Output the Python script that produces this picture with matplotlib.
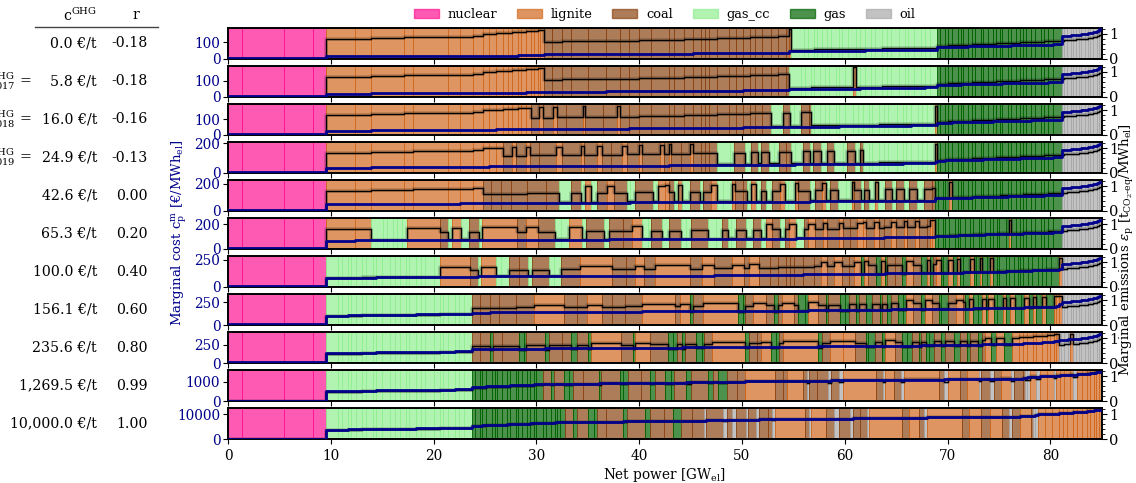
import numpy as np
import matplotlib
matplotlib.use("Agg")
import matplotlib.pyplot as plt
from matplotlib.colors import to_rgba
from matplotlib.lines import Line2D
from matplotlib.patches import Patch
from matplotlib.ticker import MultipleLocator, FixedLocator
import matplotlib.transforms as mtrans

plt.rcParams['font.family'] = ['DejaVu Serif']
plt.rcParams['mathtext.fontset'] = 'dejavuserif'

# CO2 prices of the rows and their correlation r
c_ghg = [0.0, 5.8, 16.0, 24.9, 42.6, 65.3, 100.0, 156.1, 235.6, 1269.5, 10000.0]
r_vals = [-0.18, -0.18, -0.16, -0.13, 0.00, 0.20, 0.40, 0.60, 0.80, 0.99, 1.00]
row_prefix = {1: '2017', 2: '2018', 3: '2019'}
cost_ticks = [100, 100, 100, 200, 200, 200, 250, 250, 250, 1000, 10000]

techs = ['nuclear', 'lignite', 'coal', 'gas_cc', 'gas', 'oil']
tech_colors = ['deeppink', 'chocolate', 'saddlebrown', 'lightgreen', 'darkgreen', 'darkgrey']

# power plant units: capacity [GW], cost without CO2 [EUR/MWh], emissions [t/MWh]
nuclear_cap = [1.33, 4.15, 2.76, 1.26]
nuclear_cost = [7.6, 7.8, 8.0, 8.2]
nuclear_ef = [0.0, 0.0, 0.0, 0.0]

lignite_cap = [2.9, 1.5, 3.2, 0.9, 3.4, 1.2, 1.2, 1.0, 0.6, 0.7, 0.7, 0.4, 0.4, 0.6,
               0.3, 0.5, 0.5, 0.3, 0.4, 0.2, 0.3, 0.25]
lignite_cost = [15.5, 15.7, 16.3, 16.5, 16.7, 16.9, 17.1, 17.4, 18.8, 19.0, 19.4, 19.6,
                19.8, 20.2, 20.4, 20.6, 21.0, 21.2, 21.6, 22.0, 22.4, 44.5]
lignite_ef = [0.80, 0.81, 0.85, 0.86, 0.87, 0.88, 0.89, 0.91, 0.99, 1.00, 1.02, 1.03,
              1.04, 1.06, 1.07, 1.08, 1.10, 1.11, 1.13, 1.15, 1.17, 1.18]

coal_cap = [0.8, 1.0, 0.9, 1.6, 1.8, 1.3, 0.9, 1.0, 1.2, 1.7, 0.5, 1.0, 0.8, 0.8,
            0.4, 0.4, 0.8, 1.1, 0.7, 0.7, 0.7, 0.5, 0.7, 0.8, 0.7, 0.8, 0.25]
coal_cost = [28.0, 28.3, 28.6, 28.8, 29.1, 29.5, 29.7, 30.0, 30.4, 30.8, 31.2, 31.6,
             32.0, 32.4, 32.6, 32.9, 33.3, 33.7, 34.1, 34.5, 34.9, 35.3, 35.7, 36.1,
             36.5, 36.9, 37.3]
coal_ef = [0.68, 0.69, 0.70, 0.70, 0.71, 0.72, 0.72, 0.73, 0.74, 0.75, 0.76, 0.77,
           0.78, 0.79, 0.79, 0.80, 0.81, 0.82, 0.83, 0.84, 0.85, 0.86, 0.87, 0.88,
           0.89, 0.90, 0.91]

gascc_cap = [1.2, 0.4, 0.6, 0.3, 0.5, 0.5, 0.4, 0.7, 0.3, 0.6, 0.8, 0.4, 0.5, 0.6,
             0.3, 0.7, 0.5, 0.4, 0.8, 0.6, 0.3, 0.5, 0.7, 0.4, 0.5, 0.7]
gascc_cost = [44.5, 44.9, 45.3, 45.8, 46.2, 46.6, 47.1, 47.5, 48.0, 48.4, 48.8, 49.3,
              49.7, 50.2, 50.6, 51.0, 51.5, 51.9, 52.4, 52.8, 53.3, 53.7, 54.2, 54.7,
              55.3, 56.0]
gascc_ef = [0.37, 0.37, 0.37, 0.38, 0.38, 0.38, 0.39, 0.39, 0.39, 0.40, 0.40, 0.40,
            0.40, 0.41, 0.41, 0.41, 0.42, 0.42, 0.42, 0.42, 0.43, 0.43, 0.43, 0.44,
            0.44, 0.44]

gas_cap = [0.3, 0.5, 0.2, 0.4, 0.6, 0.3, 0.2, 0.5, 0.4, 0.3, 0.6, 0.2, 0.4, 0.5, 0.3,
           0.4, 0.2, 0.6, 0.3, 0.5, 0.4, 0.2, 0.3, 0.5, 0.4, 0.6, 0.3, 0.4, 0.5, 0.8]
gas_cost = [70.0, 70.5, 71.0, 71.6, 72.1, 72.6, 73.2, 73.7, 74.2, 74.8, 75.3, 75.8,
            76.4, 76.9, 77.4, 78.0, 78.5, 79.0, 79.6, 80.1, 80.6, 81.2, 81.7, 82.2,
            82.8, 83.3, 83.8, 84.4, 85.5, 87.0]
gas_ef = [0.52, 0.53, 0.53, 0.54, 0.55, 0.55, 0.56, 0.57, 0.57, 0.58, 0.59, 0.59,
          0.60, 0.61, 0.61, 0.62, 0.63, 0.63, 0.64, 0.65, 0.65, 0.66, 0.67, 0.67,
          0.68, 0.69, 0.69, 0.70, 0.71, 0.72]

oil_cap = [0.2, 0.3, 0.4, 0.2, 0.3, 0.3, 0.2, 0.4, 0.3, 0.2, 0.3, 0.3, 0.2, 0.3]
oil_cost = [134, 136, 138, 140, 142, 143, 145, 147, 149, 152, 156, 162, 168, 175]
oil_ef = [0.73, 0.74, 0.75, 0.76, 0.77, 0.78, 0.79, 0.80, 0.81, 0.83, 0.85, 0.88,
          0.91, 0.95]

unit_data = [(nuclear_cap, nuclear_cost, nuclear_ef), (lignite_cap, lignite_cost, lignite_ef),
             (coal_cap, coal_cost, coal_ef), (gascc_cap, gascc_cost, gascc_ef),
             (gas_cap, gas_cost, gas_ef), (oil_cap, oil_cost, oil_ef)]

cap = np.concatenate([np.array(d[0], float) for d in unit_data])
cost0 = np.concatenate([np.array(d[1], float) for d in unit_data])
ef = np.concatenate([np.array(d[2], float) for d in unit_data])
tech_idx = np.concatenate([[i] * len(d[0]) for i, d in enumerate(unit_data)])
total = cap.sum()

fig, axs = plt.subplots(len(c_ghg), 1, sharex=True, figsize=(11.36, 4.83), dpi=100)
fig.subplots_adjust(left=0.2007, right=0.9698, bottom=0.091, top=0.942, hspace=0.23)

ef_top = 1.05 * ef.max()

for i, (ax, c) in enumerate(zip(axs, c_ghg)):
    mc = cost0 + c * ef
    order = np.argsort(mc, kind='stable')
    w = cap[order]
    left = np.cumsum(w) - w
    cols = [tech_colors[t] for t in tech_idx[order]]
    ax.bar(left, ef_top, width=w, align='edge', color=[to_rgba(cc, 0.7) for cc in cols],
           edgecolor=cols, linewidth=0.6, zorder=1)
    xs = np.r_[left, total]
    ys = np.r_[ef[order], ef[order][-1]]
    ax.step(xs, ys, where='post', color='k', lw=2.6, alpha=0.18, zorder=2)
    ax.step(xs, ys, where='post', color='k', lw=1.0, zorder=3)
    ax.set_ylim(0, ef_top)
    ax.set_xlim(0, total)
    ax.xaxis.set_major_locator(MultipleLocator(10))
    ax.tick_params(axis='x', labelsize=9.8)

    ax2 = ax.twinx()
    ax2.yaxis.tick_left()
    ax.yaxis.tick_right()
    ax.yaxis.set_major_locator(FixedLocator([0, 1]))
    ax.yaxis.set_minor_locator(MultipleLocator(0.2))
    ax.tick_params(axis='y', which='both', right=True, left=False, labelright=True,
                   labelleft=False, labelsize=10.5, pad=2)
    ax2.step(xs, np.r_[mc[order], mc[order][-1]], where='post', color='darkblue', lw=2.0, zorder=4)
    ax2.set_ylim(0, 1.05 * mc.max())
    ax2.set_yticks([0, cost_ticks[i]])
    ax2.tick_params(axis='y', left=True, right=False, labelleft=True, labelright=False,
                    labelsize=9.8, labelcolor='darkblue', pad=2)
    for sp in list(ax.spines.values()) + list(ax2.spines.values()):
        sp.set_linewidth(1.2)

    # table on the left
    tr = mtrans.blended_transform_factory(fig.transFigure, ax.transAxes)
    ax.text(97 / 1136, 0.5, f"{c:,.1f} €/t", transform=tr, ha='right', va='center', fontsize=10.2)
    ax.text(148 / 1136, 0.5, f"{r_vals[i]:.2f}", transform=tr, ha='right', va='center', fontsize=10.2)
    if i in row_prefix:
        ax.text(31 / 1136, 0.5, r"$\mathrm{c}^{\mathrm{GHG}}_{" + row_prefix[i] + r"}$ =",
                transform=tr, ha='right', va='center', fontsize=10.2)

axs[-1].set_xlabel(r"Net power [GW$_{\mathrm{el}}$]", fontsize=9.8, labelpad=2)

fig.text(80 / 1136, 1 - 15 / 483, r"$\mathrm{c}^{\mathrm{GHG}}$", ha='center', va='center', fontsize=10.2)
fig.text(136 / 1136, 1 - 15 / 483, "r", ha='center', va='center', fontsize=10.2)
fig.add_artist(Line2D([35 / 1136, 158 / 1136], [1 - 27 / 483] * 2, color='#444444', lw=1.0))

fig.text(179 / 1136, 1 - 233 / 483,
         r"Marginal cost $\mathrm{c}^{\mathrm{m}}_{\mathrm{p}}$ [€/MWh$_{\mathrm{el}}$]",
         rotation=90, ha='center', va='center', color='darkblue', fontsize=9.5)
fig.text(1127 / 1136, 1 - 250 / 483,
         r"Marginal emissions $\varepsilon_{\mathrm{p}}$ [t$_{\mathrm{CO_2\text{-}eq}}$/MWh$_{\mathrm{el}}$]",
         rotation=90, ha='center', va='center', fontsize=9.5)

handles = [Patch(facecolor=to_rgba(c, 0.7), edgecolor=to_rgba(c, 0.7), label=t)
           for t, c in zip(techs, tech_colors)]
axs[0].legend(handles=handles, ncol=6, loc='lower center', bbox_to_anchor=(0.5, 1.0),
              frameon=False, fontsize=9.4, borderaxespad=0.15, handlelength=1.9,
              handletextpad=0.7, columnspacing=1.5)

fig.savefig('out.png', dpi=100)
